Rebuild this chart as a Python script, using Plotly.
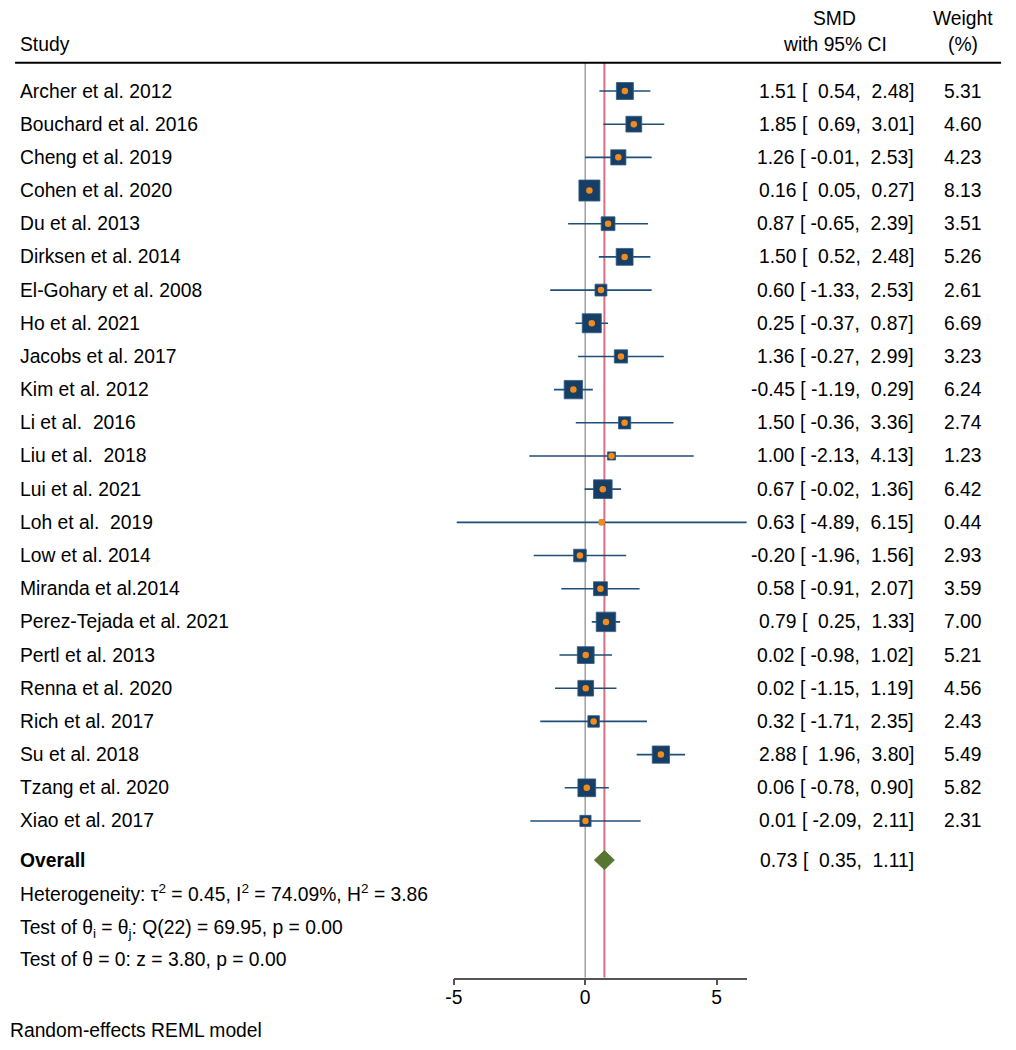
import plotly.graph_objects as go
import numpy as np

studies = ["Archer et al. 2012", "Bouchard et al. 2016", "Cheng et al. 2019", "Cohen et al. 2020",
           "Du et al. 2013", "Dirksen et al. 2014", "El-Gohary et al. 2008", "Ho et al. 2021",
           "Jacobs et al. 2017", "Kim et al. 2012", "Li et al.  2016", "Liu et al.  2018",
           "Lui et al. 2021", "Loh et al.  2019", "Low et al. 2014", "Miranda et al.2014",
           "Perez-Tejada et al. 2021", "Pertl et al. 2013", "Renna et al. 2020", "Rich et al. 2017",
           "Su et al. 2018", "Tzang et al. 2020", "Xiao et al. 2017"]
smd = [1.51, 1.85, 1.26, 0.16, 0.87, 1.50, 0.60, 0.25, 1.36, -0.45, 1.50, 1.00,
       0.67, 0.63, -0.20, 0.58, 0.79, 0.02, 0.02, 0.32, 2.88, 0.06, 0.01]
ci_lo = [0.54, 0.69, -0.01, 0.05, -0.65, 0.52, -1.33, -0.37, -0.27, -1.19, -0.36, -2.13,
         -0.02, -4.89, -1.96, -0.91, 0.25, -0.98, -1.15, -1.71, 1.96, -0.78, -2.09]
ci_hi = [2.48, 3.01, 2.53, 0.27, 2.39, 2.48, 2.53, 0.87, 2.99, 0.29, 3.36, 4.13,
         1.36, 6.15, 1.56, 2.07, 1.33, 1.02, 1.19, 2.35, 3.80, 0.90, 2.11]
weights = [5.31, 4.60, 4.23, 8.13, 3.51, 5.26, 2.61, 6.69, 3.23, 6.24, 2.74, 1.23,
           6.42, 0.44, 2.93, 3.59, 7.00, 5.21, 4.56, 2.43, 5.49, 5.82, 2.31]
overall = 0.73
overall_lo = 0.35
overall_hi = 1.11
x_ticks = [-5, 0, 5]

stats_lines = [
    "Heterogeneity: \u03c4<sup>2</sup> = 0.45, I<sup>2</sup> = 74.09%, H<sup>2</sup> = 3.86",
    "Test of \u03b8<sub>i</sub> = \u03b8<sub>j</sub>: Q(22) = 69.95, p = 0.00",
    "Test of \u03b8 = 0: z = 3.80, p = 0.00",
]
stats_yshift = [0, -3, 0]

# ---------- layout geometry (reference-page pixels) ----------
OFF = 8                      # page body margin
W, H = 1016 - 2 * OFF, 1050 - 2 * OFF
FONT = "Liberation Sans, Arial, sans-serif"
FS = 19.3
ROW0_PX = 91.0
ROW_STEP = 33.18
AXIS_PX = 977.7
X_LEFT_PX, X_RIGHT_PX = 453.3, 746.0

def adj_x(p):
    # small empirical horizontal correction
    return (p - 9.0) / 0.99

def px_x(p):
    return (adj_x(p) - OFF) / W

def px_y(p):
    return 1 - (p - OFF) / H

n = len(studies)
rows = list(range(n))
overall_row = n + 0.18
stat_rows = [overall_row + 1.0, overall_row + 2.0, overall_row + 3.0]

y_top = (OFF - ROW0_PX) / ROW_STEP
y_bot = (AXIS_PX - ROW0_PX) / ROW_STEP

navy = "#173f66"
navy_edge = "#2f5c86"
orange = "#f28a1c"
green = "#567530"
red = "#d9707f"

fig = go.Figure()

# CI lines
for i in rows:
    fig.add_trace(go.Scatter(x=[ci_lo[i], ci_hi[i]], y=[i, i], mode="lines",
                             line=dict(color="#1f4e79", width=1.6),
                             hoverinfo="skip", showlegend=False))

# weight squares
sizes = [21.0 * np.sqrt(w / max(weights)) for w in weights]
fig.add_trace(go.Scatter(x=smd, y=rows, mode="markers",
                         marker=dict(symbol="square", size=sizes, color=navy, opacity=1,
                                     line=dict(color=navy_edge, width=0.8)),
                         showlegend=False, hoverinfo="skip"))
# point estimates
fig.add_trace(go.Scatter(x=smd, y=rows, mode="markers",
                         marker=dict(symbol="circle", size=6.5, color=orange, opacity=1,
                                     line=dict(width=0)),
                         showlegend=False, hoverinfo="skip"))

# overall diamond
dh = 9.5 / ROW_STEP
fig.add_trace(go.Scatter(x=[overall_lo, overall, overall_hi, overall, overall_lo],
                         y=[overall_row, overall_row - dh, overall_row, overall_row + dh, overall_row],
                         mode="lines", fill="toself", fillcolor=green,
                         line=dict(color=green, width=1), showlegend=False, hoverinfo="skip"))

rule_row = (62.7 - ROW0_PX) / ROW_STEP
shapes = [
    dict(type="line", xref="x", yref="y", x0=0, x1=0, y0=rule_row, y1=y_bot,
         line=dict(color="#a0a0a0", width=1.5), layer="below"),
    dict(type="line", xref="x", yref="y", x0=overall, x1=overall, y0=rule_row, y1=y_bot,
         line=dict(color=red, width=2), layer="below"),
    dict(type="line", xref="paper", yref="paper", x0=px_x(15), x1=px_x(1000),
         y0=px_y(62.7), y1=px_y(62.7), line=dict(color="black", width=2)),
]

ann = []
def txt(x, y, s, xanchor="left", yref="y", bold=False, yshift=0):
    ann.append(dict(x=x, y=y, xref="paper", yref=yref, text=("<b>%s</b>" % s) if bold else s,
                    showarrow=False, xanchor=xanchor, yanchor="middle", yshift=yshift,
                    font=dict(family=FONT, size=FS, color="black")))

for i in rows:
    txt(px_x(18), i, studies[i])
    ci_txt = "%.2f [ %5.2f, %5.2f]" % (smd[i], ci_lo[i], ci_hi[i])
    txt(px_x(915), i, ci_txt.replace(" ", "\u00a0"), xanchor="right")
    txt(px_x(961.5), i, "%.2f" % weights[i], xanchor="center")

txt(px_x(18), overall_row, "Overall", bold=True)
ov_txt = "%.2f [ %5.2f, %5.2f]" % (overall, overall_lo, overall_hi)
txt(px_x(915), overall_row, ov_txt.replace(" ", "\u00a0"), xanchor="right")
for r, s, ys in zip(stat_rows, stats_lines, stats_yshift):
    txt(px_x(18), r, s, yshift=ys)

# headers
txt(px_x(18), px_y(45), "Study", yref="paper")
txt(px_x(834), px_y(19), "SMD", xanchor="center", yref="paper")
txt(px_x(834), px_y(45), "with 95% CI", xanchor="center", yref="paper")
txt(px_x(961.5), px_y(19), "Weight", xanchor="center", yref="paper")
txt(px_x(961.5), px_y(45), "(%)", xanchor="center", yref="paper")
txt(px_x(8), px_y(1030), "Random-effects REML model", yref="paper")

x_min = -5
x_max = max(ci_hi)

fig.update_layout(
    width=W, height=H,
    margin=dict(l=0, r=0, t=0, b=0),
    paper_bgcolor="white", plot_bgcolor="white",
    font=dict(family=FONT, size=FS, color="black"),
    shapes=shapes, annotations=ann, showlegend=False,
    xaxis=dict(domain=[px_x(X_LEFT_PX), px_x(X_RIGHT_PX)], range=[x_min, x_max],
               tickvals=x_ticks, ticktext=[str(t) for t in x_ticks],
               showline=True, linecolor="#555555", linewidth=1.5,
               ticks="outside", ticklen=6, tickwidth=1.5, tickcolor="#555555",
               ticklabelstandoff=-5,
               showgrid=False, zeroline=False, fixedrange=True,
               tickfont=dict(family=FONT, size=FS, color="black")),
    yaxis=dict(domain=[px_y(AXIS_PX), 1], range=[y_bot, y_top],
               showline=False, showgrid=False, zeroline=False,
               showticklabels=False, ticks="", fixedrange=True),
)

fig.write_html("out.html")
